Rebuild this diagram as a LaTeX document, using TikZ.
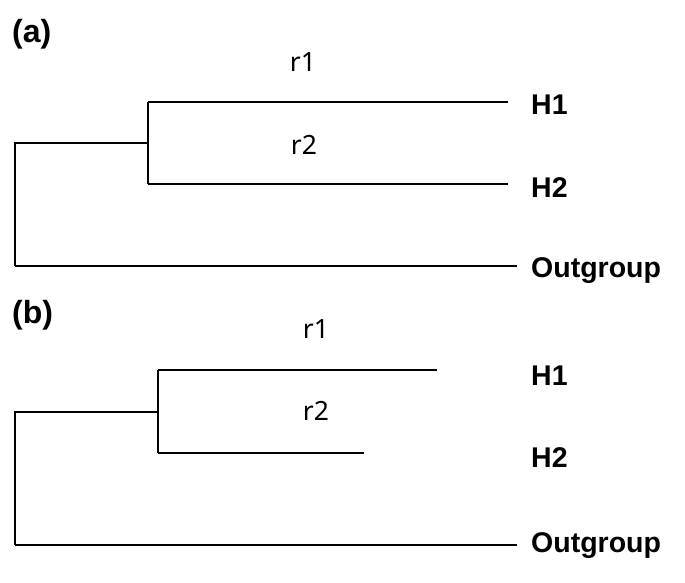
\documentclass[tikz,border=0pt]{standalone}
\usepackage{fontspec}
\setmainfont{Noto Sans}
\newfontfamily\labfont{Liberation Sans}
\begin{document}
\begin{tikzpicture}[x=1pt,y=-1pt,
  branch/.style={line width=1.7pt, black},
  leaf/.style={font=\labfont\bfseries\fontsize{28.5}{30}\selectfont, anchor=base west, inner sep=0pt},
  rlab/.style={font=\fontsize{26.5}{30}\selectfont, anchor=base, inner sep=0pt},
  panel/.style={font=\labfont\bfseries\fontsize{32}{36}\selectfont, anchor=base west, inner sep=0pt}]
\useasboundingbox (0,0) rectangle (685,583);
% panel (a)
\node[panel] (pa) at (12,43) {(a)};
\coordinate (aroot1) at (15,143);
\coordinate (aroot2) at (15,266);
\coordinate (ain1) at (148,143);
\coordinate (ain2) at (148,102);
\coordinate (ain3) at (148,184);
\coordinate (ah1) at (508,102);
\coordinate (ah2) at (508,184);
\coordinate (aout) at (517,266);
\draw[branch] (aroot2) -- (aroot1) -- (ain1);
\draw[branch] (ain2) -- (ain3);
\draw[branch] (ain2) -- (ah1);
\draw[branch] (ain3) -- (ah2);
\draw[branch] (aroot2) -- (aout);
\node[leaf] (aH1) at (531,114) {H1};
\node[leaf] (aH2) at (531,197) {H2};
\node[leaf] (aOut) at (531,277) {Outgroup};
\node[rlab] (ar1) at (303,72) {r1};
\node[rlab] (ar2) at (304,154) {r2};
% panel (b)
\node[panel] (pb) at (12,323) {(b)};
\coordinate (broot1) at (15,412);
\coordinate (broot2) at (15,545);
\coordinate (bin1) at (158,412);
\coordinate (bin2) at (158,370);
\coordinate (bin3) at (158,453);
\coordinate (bh1) at (437,370);
\coordinate (bh2) at (364,453);
\coordinate (bout) at (517,545);
\draw[branch] (broot2) -- (broot1) -- (bin1);
\draw[branch] (bin2) -- (bin3);
\draw[branch] (bin2) -- (bh1);
\draw[branch] (bin3) -- (bh2);
\draw[branch] (broot2) -- (bout);
\node[leaf] (bH1) at (531,385) {H1};
\node[leaf] (bH2) at (531,467) {H2};
\node[leaf] (bOut) at (531,552) {Outgroup};
\node[rlab] (br1) at (316,338) {r1};
\node[rlab] (br2) at (316,420) {r2};
\end{tikzpicture}
\end{document}
